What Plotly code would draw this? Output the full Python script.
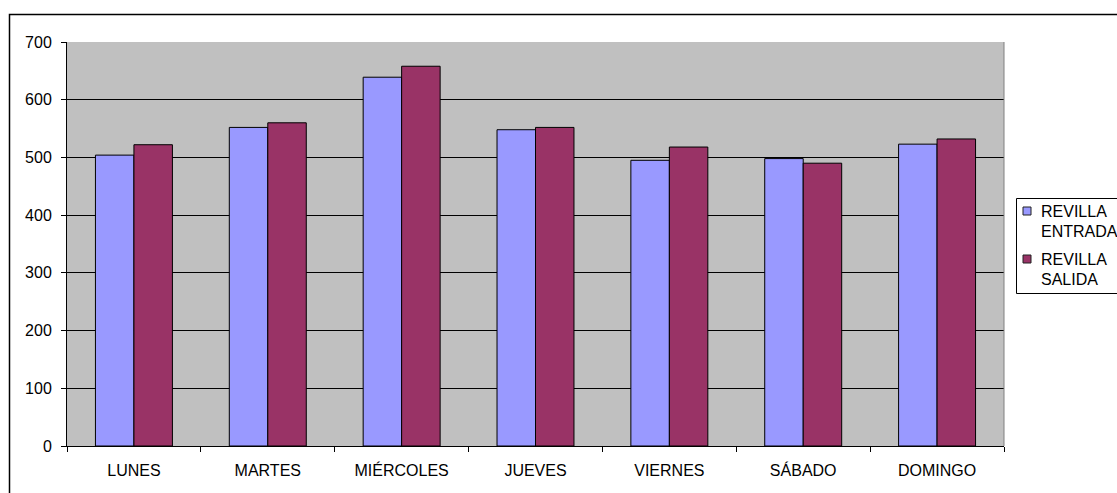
import plotly.graph_objects as go

categories = ["LUNES", "MARTES", "MIÉRCOLES", "JUEVES", "VIERNES", "SÁBADO", "DOMINGO"]
entrada = [504, 552, 639, 548, 495, 498, 523]
salida = [522, 560, 658, 552, 518, 490, 532]
series_names = ["REVILLA<br>ENTRADA", "REVILLA<br>SALIDA"]
series_colors = ["#9999FF", "#993366"]

W, H = 1117, 493
L, T = 67, 42
PR, PB = 1004, 446
R = W - PR
B = H - PB
pw = PR - L
ph = PB - T


def px_x(x):
    return (x - L) / pw


def px_y(y):
    return (PB - y) / ph


fig = go.Figure()
for vals, name, col in zip([entrada, salida], series_names, series_colors):
    fig.add_trace(go.Bar(x=categories, y=vals, name=name, showlegend=False,
                         marker=dict(color=col, line=dict(color="black", width=1))))

shapes = [
    dict(type="line", xref="paper", yref="paper",
         x0=1.0, x1=1.0, y0=0, y1=1, line=dict(color="#808080", width=1)),
    dict(type="rect", xref="paper", yref="paper",
         x0=px_x(9.5), x1=px_x(W + 10), y0=px_y(H + 10), y1=px_y(14.5),
         line=dict(color="black", width=1.5), layer="below"),
    # legend box
    dict(type="rect", xref="paper", yref="paper",
         x0=px_x(1016.5), x1=px_x(W + 10), y0=px_y(293.5), y1=px_y(198.5),
         line=dict(color="black", width=1), fillcolor="white"),
]
annotations = []
row_y = [211, 259]
for name, col, ry in zip(series_names, series_colors, row_y):
    shapes.append(dict(type="rect", xref="paper", yref="paper",
                       x0=px_x(1023), x1=px_x(1031), y0=px_y(ry + 4), y1=px_y(ry - 4),
                       line=dict(color="#222222", width=1), fillcolor=col))
    for i, part in enumerate(name.split("<br>")):
        annotations.append(dict(xref="paper", yref="paper", x=px_x(1039), y=px_y(ry + 20 * i),
                                xanchor="left", yanchor="middle", text=part, showarrow=False,
                                font=dict(size=16, color="black")))

fig.update_layout(
    width=W, height=H,
    margin=dict(l=L, r=R, t=T, b=B, pad=0, autoexpand=False),
    paper_bgcolor="white",
    plot_bgcolor="#C0C0C0",
    barmode="group",
    bargap=0.425,
    bargroupgap=0,
    font=dict(family="Liberation Sans, Arial, sans-serif", size=16, color="black"),
    showlegend=False,
    xaxis=dict(
        type="category", showgrid=False, ticks="outside", tickson="boundaries",
        ticklen=5, tickcolor="black", showline=True, linecolor="black", linewidth=1,
        tickfont=dict(size=16), automargin=False, ticklabelstandoff=10,
    ),
    yaxis=dict(
        range=[0, 700], dtick=100, showgrid=True, gridcolor="black", gridwidth=1,
        ticks="outside", ticklen=5, tickcolor="black", showline=True,
        linecolor="black", linewidth=1, zeroline=False, tickfont=dict(size=16),
        automargin=False, ticklabelstandoff=6,
    ),
    shapes=shapes,
    annotations=annotations,
)

fig.write_html("out.html", config={"displayModeBar": False},
               post_script="document.body.style.margin='0';")
